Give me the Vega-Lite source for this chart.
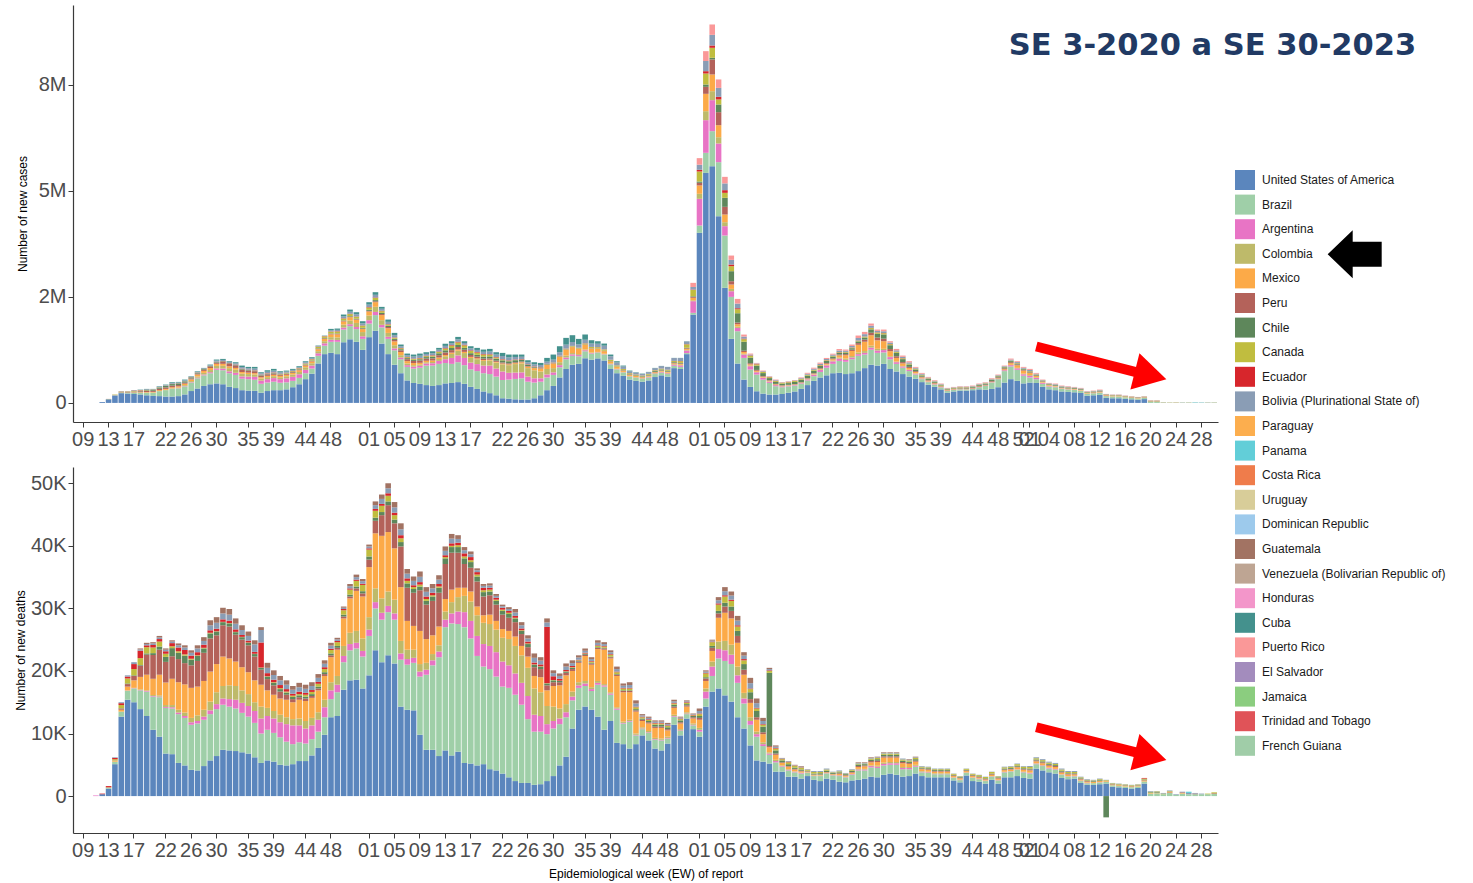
{
"$schema":"https://vega.github.io/schema/vega-lite/v6.json",
"padding":{"left":14,"top":5,"right":5,"bottom":5},
"background":"white",
"config":{"view":{"stroke":null},"axis":{"grid":false,"labelFont":"Liberation Sans","titleFont":"Liberation Sans","labelFontSize":20,"labelColor":"#4d4d4d","titleColor":"#000000","titleFontSize":12,"titleFontWeight":"normal","domainColor":"#3a3a3a","domainWidth":1.2,"tickColor":"#3a3a3a","tickSize":5,"labelPadding":2}},
"datasets":{
"names":[{"key":"u","country":"United States of America","rank":1},{"key":"b","country":"Brazil","rank":2},{"key":"a","country":"Argentina","rank":3},{"key":"c","country":"Colombia","rank":4},{"key":"m","country":"Mexico","rank":5},{"key":"p","country":"Peru","rank":6},{"key":"l","country":"Chile","rank":7},{"key":"k","country":"Canada","rank":8},{"key":"e","country":"Ecuador","rank":9},{"key":"o","country":"Bolivia (Plurinational State of)","rank":10},{"key":"n","country":"Panama","rank":12},{"key":"g","country":"Guatemala","rank":16},{"key":"q","country":"Cuba","rank":19},{"key":"r","country":"Puerto Rico","rank":20}],
"cases":[
{"w":"2020-08","u":0},{"w":"2020-09","u":0},{"w":"2020-10","u":0},{"w":"2020-11","u":0},{"w":"2020-12","u":20},
{"w":"2020-13","u":85,"b":3,"m":1,"l":1,"k":3,"e":1},
{"w":"2020-14","u":175,"b":7,"m":2,"p":2,"l":2,"k":8,"e":1},
{"w":"2020-15","u":230,"b":10,"c":1,"m":3,"p":7,"l":3,"k":10,"e":5,"o":3,"q":3},
{"w":"2020-16","u":220,"b":17,"c":1,"m":4,"p":10,"l":4,"k":10,"e":4,"o":3,"q":2},
{"w":"2020-17","u":210,"b":30,"c":2,"m":7,"p":17,"l":4,"k":11,"e":8,"o":5,"q":5},
{"w":"2020-18","u":200,"b":40,"c":3,"m":10,"p":20,"l":9,"k":10,"e":8,"o":7,"q":7},
{"w":"2020-19","u":180,"b":60,"c":4,"m":12,"p":25,"l":14,"k":8,"e":5,"o":11,"q":11},
{"w":"2020-20","u":165,"b":75,"c":5,"m":15,"p":27,"l":19,"k":7,"e":3,"o":7,"q":7},
{"w":"2020-21","u":160,"b":115,"c":6,"m":20,"p":32,"l":27,"k":6,"e":3,"o":12,"q":12},
{"w":"2020-22","u":150,"b":150,"c":8,"m":22,"p":36,"l":33,"k":5,"e":3,"o":13,"q":12},
{"w":"2020-23","u":150,"b":180,"a":4,"c":11,"m":25,"p":38,"l":36,"k":4,"e":3,"o":18,"q":18},
{"w":"2020-24","u":160,"b":180,"a":6,"c":15,"m":30,"p":30,"l":38,"k":3,"e":3,"o":15,"q":15},
{"w":"2020-25","u":200,"b":190,"a":8,"c":20,"m":35,"p":24,"l":30,"k":2,"e":3,"o":19,"q":19},
{"w":"2020-26","u":280,"b":200,"a":10,"c":24,"m":40,"p":22,"l":25,"k":2,"e":4,"o":11,"q":11},
{"w":"2020-27","u":340,"b":240,"a":15,"c":30,"m":44,"p":23,"l":20,"k":2,"e":5,"o":14,"q":14},
{"w":"2020-28","u":400,"b":250,"a":20,"c":38,"m":47,"p":24,"l":17,"k":2,"e":5,"o":11,"q":11},
{"w":"2020-29","u":440,"b":260,"a":25,"c":50,"m":48,"p":26,"l":14,"k":3,"e":6,"o":16,"q":16},
{"w":"2020-30","u":460,"b":320,"a":33,"c":60,"m":48,"p":28,"l":14,"k":3,"e":6,"o":25,"q":25},
{"w":"2020-31","u":440,"b":330,"a":40,"c":65,"m":46,"p":45,"l":13,"k":3,"e":6,"o":25,"q":24},
{"w":"2020-32","u":380,"b":320,"a":45,"c":75,"m":43,"p":55,"l":13,"k":3,"e":6,"o":21,"q":21},
{"w":"2020-33","u":350,"b":310,"a":50,"c":75,"m":40,"p":60,"l":12,"k":3,"e":6,"o":27,"q":26},
{"w":"2020-34","u":300,"b":270,"a":55,"c":65,"m":38,"p":60,"l":13,"k":3,"e":6,"o":35,"q":35},
{"w":"2020-35","u":290,"b":270,"a":60,"c":60,"m":33,"p":50,"l":12,"k":3,"e":6,"o":33,"q":32},
{"w":"2020-36","u":285,"b":260,"a":70,"c":55,"m":32,"p":45,"l":12,"k":4,"e":7,"o":40,"q":39},
{"w":"2020-37","u":240,"b":210,"a":75,"c":50,"m":30,"p":40,"l":11,"k":5,"e":7,"o":28,"q":27},
{"w":"2020-38","u":280,"b":200,"a":80,"c":48,"m":30,"p":35,"l":11,"k":7,"e":8,"o":36,"q":35},
{"w":"2020-39","u":300,"b":200,"a":85,"c":45,"m":32,"p":30,"l":11,"k":8,"e":8,"o":42,"q":41},
{"w":"2020-40","u":300,"b":175,"a":85,"c":45,"m":33,"p":22,"l":10,"k":10,"e":8,"o":30,"q":29},
{"w":"2020-41","u":320,"b":165,"a":95,"c":48,"m":35,"p":20,"l":11,"k":13,"e":6,"o":25,"q":24},
{"w":"2020-42","u":370,"b":150,"a":95,"c":55,"m":35,"p":17,"l":10,"k":16,"e":6,"o":24,"q":24},
{"w":"2020-43","u":440,"b":150,"a":85,"c":55,"m":40,"p":16,"l":10,"k":17,"e":6,"o":23,"q":23},
{"w":"2020-44","u":560,"b":140,"a":80,"c":60,"m":40,"p":15,"l":10,"k":20,"e":6,"o":26,"q":25},
{"w":"2020-45","u":690,"b":120,"a":70,"c":55,"m":42,"p":14,"l":10,"k":25,"e":6,"o":23,"q":22},
{"w":"2020-46","u":930,"b":180,"a":60,"c":50,"m":45,"p":13,"l":10,"k":32,"e":7,"o":13,"q":12},
{"w":"2020-47","u":1150,"b":200,"a":55,"c":50,"m":55,"p":12,"l":10,"k":35,"e":7,"o":7,"q":7},
{"w":"2020-48","u":1180,"b":260,"a":50,"c":60,"m":65,"p":13,"l":10,"k":40,"e":7,"o":30,"q":30},
{"w":"2020-49","u":1150,"b":290,"a":45,"c":60,"m":70,"p":13,"l":10,"k":45,"e":8,"o":31,"q":31},
{"w":"2020-50","u":1430,"b":300,"a":45,"c":70,"m":75,"p":12,"l":11,"k":45,"e":8,"o":44,"q":43},
{"w":"2020-51","u":1500,"b":310,"a":45,"c":85,"m":80,"p":12,"l":14,"k":48,"e":8,"o":49,"q":49},
{"w":"2020-52","u":1440,"b":300,"a":50,"c":95,"m":75,"p":12,"l":15,"k":45,"e":7,"o":50,"q":49},
{"w":"2020-53","u":1250,"b":260,"a":60,"c":100,"m":70,"p":12,"l":18,"k":50,"e":7,"o":50,"q":49},
{"w":"2021-01","u":1550,"b":320,"a":80,"c":110,"m":95,"p":15,"l":25,"k":55,"e":10,"o":57,"q":57},
{"w":"2021-02","u":1700,"b":370,"a":75,"c":120,"m":110,"p":20,"l":28,"k":50,"e":12,"o":63,"q":62},
{"w":"2021-03","u":1400,"b":380,"a":60,"c":110,"m":120,"p":25,"l":28,"k":40,"e":10,"o":46,"q":45},
{"w":"2021-04","u":1150,"b":360,"a":50,"c":90,"m":110,"p":30,"l":28,"k":30,"e":9,"o":54,"q":54},
{"w":"2021-05","u":900,"b":340,"a":45,"c":75,"m":90,"p":35,"l":27,"k":25,"e":8,"o":53,"q":53},
{"w":"2021-06","u":700,"b":330,"a":40,"c":55,"m":75,"p":40,"l":26,"k":22,"e":8,"o":40,"q":40},
{"w":"2021-07","u":530,"b":320,"a":40,"c":40,"m":55,"p":45,"l":26,"k":20,"e":8,"o":40,"q":39},
{"w":"2021-08","u":470,"b":340,"a":45,"c":35,"m":50,"p":50,"l":26,"k":20,"e":9,"o":48,"q":47},
{"w":"2021-09","u":450,"b":380,"a":45,"c":30,"m":40,"p":55,"l":30,"k":20,"e":10,"o":52,"q":51},
{"w":"2021-10","u":420,"b":460,"a":50,"c":28,"m":35,"p":52,"l":35,"k":22,"e":10,"o":42,"q":41},
{"w":"2021-11","u":400,"b":480,"a":55,"c":30,"m":35,"p":50,"l":40,"k":25,"e":10,"o":47,"q":46},
{"w":"2021-12","u":420,"b":500,"a":70,"c":45,"m":35,"p":55,"l":45,"k":30,"e":11,"o":43,"q":43},
{"w":"2021-13","u":460,"b":480,"a":90,"c":70,"m":30,"p":60,"l":50,"k":40,"e":12,"o":52,"q":51},
{"w":"2021-14","u":470,"b":450,"a":140,"c":95,"m":30,"p":60,"l":50,"k":55,"e":13,"o":46,"q":45},
{"w":"2021-15","u":490,"b":470,"a":160,"c":110,"m":30,"p":58,"l":48,"k":60,"e":14,"o":58,"q":58},
{"w":"2021-16","u":450,"b":440,"a":170,"c":115,"m":28,"p":50,"l":45,"k":58,"e":14,"o":42,"q":42},
{"w":"2021-17","u":380,"b":410,"a":160,"c":110,"m":25,"p":45,"l":42,"k":55,"e":13,"o":48,"q":48},
{"w":"2021-18","u":330,"b":420,"a":165,"c":115,"m":22,"p":40,"l":42,"k":52,"e":13,"o":49,"q":49},
{"w":"2021-19","u":270,"b":430,"a":180,"c":110,"m":20,"p":35,"l":45,"k":50,"e":12,"o":53,"q":53},
{"w":"2021-20","u":230,"b":450,"a":200,"c":120,"m":18,"p":30,"l":48,"k":40,"e":12,"o":63,"q":62},
{"w":"2021-21","u":180,"b":440,"a":190,"c":140,"m":18,"p":28,"l":48,"k":28,"e":11,"o":56,"q":56},
{"w":"2021-22","u":110,"b":430,"a":200,"c":170,"m":18,"p":25,"l":50,"k":18,"e":11,"o":74,"q":73},
{"w":"2021-23","u":100,"b":450,"a":160,"c":180,"m":20,"p":22,"l":50,"k":12,"e":10,"o":68,"q":68},
{"w":"2021-24","u":85,"b":480,"a":150,"c":200,"m":22,"p":20,"l":50,"k":8,"e":10,"o":58,"q":57},
{"w":"2021-25","u":80,"b":500,"a":140,"c":210,"m":28,"p":17,"l":42,"k":6,"e":10,"o":54,"q":53},
{"w":"2021-26","u":80,"b":420,"a":120,"c":200,"m":35,"p":14,"l":30,"k":5,"e":8,"o":47,"q":47},
{"w":"2021-27","u":110,"b":370,"a":100,"c":190,"m":50,"p":12,"l":20,"k":4,"e":7,"o":48,"q":48},
{"w":"2021-28","u":180,"b":320,"a":80,"c":160,"m":70,"p":10,"l":14,"k":4,"e":6,"o":50,"q":49},
{"w":"2021-29","u":300,"b":300,"a":70,"c":130,"m":95,"p":9,"l":10,"k":4,"e":5,"o":50,"q":88},
{"w":"2021-30","u":400,"b":260,"a":60,"c":100,"m":110,"p":8,"l":8,"k":5,"e":5,"o":64,"q":120},
{"w":"2021-31","u":600,"b":240,"a":50,"c":70,"m":130,"p":8,"l":6,"k":7,"e":5,"o":80,"q":140},
{"w":"2021-32","u":800,"b":230,"a":40,"c":45,"m":140,"p":7,"l":5,"k":10,"e":5,"o":91,"q":160},
{"w":"2021-33","u":900,"b":210,"a":35,"c":30,"m":140,"p":7,"l":5,"k":14,"e":4,"o":91,"q":160},
{"w":"2021-34","u":920,"b":180,"a":28,"c":22,"m":120,"p":7,"l":4,"k":18,"e":4,"o":76,"q":130},
{"w":"2021-35","u":1050,"b":170,"a":20,"c":18,"m":110,"p":7,"l":4,"k":22,"e":3,"o":87,"q":120},
{"w":"2021-36","u":1020,"b":140,"a":14,"c":14,"m":90,"p":7,"l":4,"k":28,"e":3,"o":78,"q":80},
{"w":"2021-37","u":1050,"b":130,"a":10,"c":12,"m":70,"p":7,"l":4,"k":30,"e":3,"o":78,"q":60},
{"w":"2021-38","u":1000,"b":140,"a":8,"c":11,"m":60,"p":7,"l":4,"k":30,"e":3,"o":86,"q":50},
{"w":"2021-39","u":800,"b":110,"a":7,"c":10,"m":50,"p":6,"l":4,"k":28,"e":3,"o":82,"q":40},
{"w":"2021-40","u":700,"b":90,"a":6,"c":10,"m":40,"p":6,"l":5,"k":26,"e":3,"o":67,"q":30},
{"w":"2021-41","u":640,"b":75,"a":6,"c":10,"m":32,"p":6,"l":7,"k":22,"e":3,"o":59,"q":20},
{"w":"2021-42","u":550,"b":70,"a":7,"c":10,"m":28,"p":6,"l":10,"k":18,"e":3,"o":45,"q":15},
{"w":"2021-43","u":520,"b":70,"a":8,"c":11,"m":25,"p":6,"l":12,"k":16,"e":3,"o":42,"q":10},
{"w":"2021-44","u":500,"b":65,"a":9,"c":11,"m":20,"p":7,"l":15,"k":16,"e":3,"o":38,"q":8},
{"w":"2021-45","u":530,"b":70,"a":10,"c":12,"m":18,"p":7,"l":18,"k":17,"e":3,"o":40,"q":6},
{"w":"2021-46","u":610,"b":70,"a":12,"c":13,"m":18,"p":8,"l":20,"k":17,"e":3,"o":49,"q":5},
{"w":"2021-47","u":650,"b":60,"a":15,"c":14,"m":18,"p":9,"l":22,"k":18,"e":4,"o":58,"q":4},
{"w":"2021-48","u":620,"b":60,"a":18,"c":14,"m":18,"p":10,"l":20,"k":20,"e":4,"o":62,"q":3},
{"w":"2021-49","u":820,"b":55,"a":25,"c":15,"m":18,"p":11,"l":17,"k":25,"e":5,"o":67,"q":3},
{"w":"2021-50","u":800,"b":50,"a":35,"c":14,"m":18,"p":12,"l":14,"k":40,"e":5,"o":70,"q":3},
{"w":"2021-51","u":1150,"b":25,"a":60,"c":14,"m":25,"p":14,"l":12,"k":80,"e":6,"o":65,"q":3},
{"w":"2021-52","u":2083,"b":40,"a":275,"c":20,"m":60,"p":20,"l":15,"k":150,"e":10,"o":60,"r":97},
{"w":"2022-01","u":4009,"b":173,"a":629,"c":118,"m":197,"p":63,"l":30,"k":236,"e":40,"o":120,"r":155},
{"w":"2022-02","u":5423,"b":472,"a":770,"c":212,"m":409,"p":165,"l":55,"k":259,"e":55,"o":240,"r":232},
{"w":"2022-03","u":5581,"b":825,"a":731,"c":212,"m":393,"p":354,"l":39,"k":236,"e":55,"o":250,"r":245},
{"w":"2022-04","u":4402,"b":1273,"a":440,"c":149,"m":283,"p":307,"l":181,"k":118,"e":63,"o":210,"r":199},
{"w":"2022-05","u":2712,"b":1234,"a":220,"c":94,"m":181,"p":181,"l":212,"k":118,"e":63,"o":160,"r":154},
{"w":"2022-06","u":1509,"b":990,"a":134,"c":55,"m":102,"p":79,"l":236,"k":118,"e":39,"o":110,"r":102},
{"w":"2022-07","u":928,"b":762,"a":79,"c":30,"m":55,"p":40,"l":220,"k":94,"e":24,"o":110,"r":110},
{"w":"2022-08","u":550,"b":511,"a":79,"c":20,"m":40,"p":30,"l":212,"k":60,"e":15,"o":47,"r":47},
{"w":"2022-09","u":377,"b":409,"a":79,"c":15,"m":30,"p":25,"l":134,"k":40,"e":10,"o":22,"r":22},
{"w":"2022-10","u":275,"b":393,"a":55,"c":10,"m":25,"p":20,"l":100,"k":30,"e":8,"o":14,"r":13},
{"w":"2022-11","u":220,"b":330,"a":40,"c":8,"m":20,"p":15,"l":70,"k":25,"e":6,"o":14,"r":14},
{"w":"2022-12","u":197,"b":275,"a":30,"c":6,"m":15,"p":12,"l":50,"k":20,"e":5,"o":10,"r":9},
{"w":"2022-13","u":197,"b":197,"a":25,"c":5,"m":15,"p":10,"l":45,"k":20,"e":5,"o":16,"r":15},
{"w":"2022-14","u":210,"b":160,"a":20,"c":4,"m":12,"p":8,"l":40,"k":20,"e":4,"o":6,"r":6},
{"w":"2022-15","u":240,"b":150,"a":15,"c":4,"m":10,"p":8,"l":40,"k":20,"e":4,"o":10,"r":9},
{"w":"2022-16","u":270,"b":140,"a":12,"c":4,"m":10,"p":8,"l":50,"k":22,"e":4,"o":10,"r":10},
{"w":"2022-17","u":330,"b":120,"a":15,"c":5,"m":10,"p":8,"l":60,"k":20,"e":4,"o":14,"r":14},
{"w":"2022-18","u":420,"b":110,"a":25,"c":6,"m":12,"p":10,"l":60,"k":18,"e":4,"o":23,"r":22},
{"w":"2022-19","u":520,"b":110,"a":35,"c":8,"m":15,"p":12,"l":60,"k":17,"e":4,"o":25,"r":24},
{"w":"2022-20","u":600,"b":130,"a":45,"c":10,"m":18,"p":15,"l":55,"k":16,"e":4,"o":29,"r":28},
{"w":"2022-21","u":650,"b":180,"a":55,"c":15,"m":22,"p":18,"l":50,"k":15,"e":4,"o":26,"r":25},
{"w":"2022-22","u":700,"b":220,"a":60,"c":20,"m":30,"p":20,"l":45,"k":14,"e":4,"o":24,"r":23},
{"w":"2022-23","u":710,"b":280,"a":55,"c":25,"m":50,"p":22,"l":40,"k":13,"e":5,"o":35,"r":35},
{"w":"2022-24","u":680,"b":290,"a":45,"c":30,"m":80,"p":25,"l":35,"k":13,"e":5,"o":28,"r":27},
{"w":"2022-25","u":700,"b":330,"a":40,"c":35,"m":120,"p":30,"l":35,"k":15,"e":5,"o":33,"r":33},
{"w":"2022-26","u":750,"b":360,"a":40,"c":40,"m":180,"p":40,"l":40,"k":17,"e":5,"o":58,"r":58},
{"w":"2022-27","u":820,"b":320,"a":40,"c":42,"m":220,"p":50,"l":50,"k":20,"e":5,"o":54,"r":53},
{"w":"2022-28","u":900,"b":354,"a":50,"c":45,"m":245,"p":60,"l":80,"k":30,"e":6,"o":51,"r":50},
{"w":"2022-29","u":880,"b":300,"a":55,"c":40,"m":200,"p":65,"l":90,"k":30,"e":6,"o":32,"r":31},
{"w":"2022-30","u":920,"b":270,"a":55,"c":30,"m":180,"p":60,"l":100,"k":28,"e":5,"o":41,"r":40},
{"w":"2022-31","u":800,"b":230,"a":50,"c":20,"m":120,"p":50,"l":90,"k":25,"e":4,"o":33,"r":32},
{"w":"2022-32","u":740,"b":180,"a":40,"c":15,"m":85,"p":40,"l":80,"k":22,"e":4,"o":34,"r":33},
{"w":"2022-33","u":680,"b":150,"a":30,"c":12,"m":60,"p":30,"l":70,"k":20,"e":4,"o":30,"r":30},
{"w":"2022-34","u":620,"b":130,"a":25,"c":10,"m":40,"p":25,"l":55,"k":18,"e":3,"o":29,"r":28},
{"w":"2022-35","u":570,"b":100,"a":20,"c":8,"m":30,"p":20,"l":40,"k":16,"e":3,"o":21,"r":21},
{"w":"2022-36","u":490,"b":70,"a":15,"c":6,"m":22,"p":15,"l":30,"k":15,"e":3,"o":21,"r":20},
{"w":"2022-37","u":430,"b":60,"a":12,"c":5,"m":18,"p":12,"l":25,"k":15,"e":3,"o":17,"r":16},
{"w":"2022-38","u":380,"b":50,"a":10,"c":4,"m":15,"p":10,"l":20,"k":14,"e":2,"o":15,"r":15},
{"w":"2022-39","u":320,"b":45,"a":8,"c":4,"m":12,"p":8,"l":17,"k":14,"e":2,"o":13,"r":13},
{"w":"2022-40","u":240,"b":40,"a":6,"c":3,"m":10,"p":7,"l":15,"k":12,"e":2,"o":10,"r":9},
{"w":"2022-41","u":270,"b":35,"a":5,"c":3,"m":9,"p":7,"l":14,"k":12,"e":2,"o":10,"r":10},
{"w":"2022-42","u":290,"b":30,"a":4,"c":3,"m":8,"p":8,"l":15,"k":12,"e":2,"o":11,"r":10},
{"w":"2022-43","u":290,"b":28,"a":4,"c":3,"m":7,"p":10,"l":16,"k":11,"e":2,"o":11,"r":11},
{"w":"2022-44","u":300,"b":28,"a":4,"c":3,"m":7,"p":12,"l":18,"k":11,"e":2,"o":12,"r":12},
{"w":"2022-45","u":320,"b":50,"a":4,"c":3,"m":7,"p":14,"l":20,"k":11,"e":2,"o":13,"r":12},
{"w":"2022-46","u":310,"b":90,"a":5,"c":3,"m":7,"p":15,"l":20,"k":11,"e":2,"o":12,"r":12},
{"w":"2022-47","u":330,"b":150,"a":6,"c":4,"m":8,"p":16,"l":25,"k":11,"e":2,"o":15,"r":15},
{"w":"2022-48","u":370,"b":190,"a":8,"c":4,"m":10,"p":20,"l":25,"k":11,"e":2,"o":14,"r":14},
{"w":"2022-49","u":480,"b":270,"a":20,"c":5,"m":20,"p":20,"l":25,"k":11,"e":2,"o":14,"r":13},
{"w":"2022-50","u":560,"b":300,"a":30,"c":8,"m":40,"p":22,"l":25,"k":11,"e":2,"o":24,"r":23},
{"w":"2022-51","u":520,"b":260,"a":35,"c":12,"m":60,"p":18,"l":22,"k":11,"e":2,"o":22,"r":21},
{"w":"2022-52","u":460,"b":180,"a":35,"c":15,"m":70,"p":14,"l":20,"k":10,"e":2,"o":22,"r":21},
{"w":"2023-01","u":480,"b":120,"a":40,"c":18,"m":50,"p":12,"l":20,"k":10,"e":2,"o":25,"r":25},
{"w":"2023-02","u":470,"b":90,"a":30,"c":15,"m":30,"p":10,"l":18,"k":8,"e":2,"o":17,"r":17},
{"w":"2023-03","u":380,"b":70,"a":20,"c":10,"m":20,"p":8,"l":14,"k":7,"e":2,"o":10,"r":9},
{"w":"2023-04","u":320,"b":65,"a":12,"c":8,"m":15,"p":7,"l":14,"k":6,"e":2,"o":12,"r":11},
{"w":"2023-05","u":300,"b":70,"a":10,"c":7,"m":13,"p":6,"l":15,"k":6,"e":2,"o":14,"r":13},
{"w":"2023-06","u":270,"b":60,"a":8,"c":6,"m":12,"p":6,"l":15,"k":6,"e":2,"o":12,"r":12},
{"w":"2023-07","u":260,"b":55,"a":6,"c":6,"m":12,"p":6,"l":16,"k":6,"e":2,"o":12,"r":12},
{"w":"2023-08","u":250,"b":55,"a":5,"c":5,"m":12,"p":6,"l":16,"k":6,"e":2,"o":10,"r":10},
{"w":"2023-09","u":235,"b":50,"a":4,"c":5,"m":12,"p":5,"l":15,"k":6,"e":2,"o":10,"r":10},
{"w":"2023-10","u":170,"b":45,"a":3,"c":4,"m":12,"p":5,"l":12,"k":6,"e":2,"o":8,"r":8},
{"w":"2023-11","u":180,"b":45,"a":3,"c":4,"m":14,"p":6,"l":12,"k":6,"e":2,"o":10,"r":9},
{"w":"2023-12","u":190,"b":50,"a":3,"c":4,"m":16,"p":8,"l":12,"k":6,"e":2,"o":12,"r":11},
{"w":"2023-13","u":120,"b":40,"a":2,"c":4,"m":14,"p":6,"l":8,"k":5,"e":2,"o":6,"r":5},
{"w":"2023-14","u":110,"b":40,"a":2,"c":4,"m":12,"p":6,"l":7,"k":5,"e":2,"o":5,"r":4},
{"w":"2023-15","u":110,"b":40,"a":2,"c":4,"m":12,"p":6,"l":7,"k":5,"e":2,"o":5,"r":4},
{"w":"2023-16","u":95,"b":35,"a":2,"c":4,"m":10,"p":5,"l":7,"k":5,"e":2,"o":4,"r":4},
{"w":"2023-17","u":85,"b":30,"a":2,"c":4,"m":10,"p":5,"l":6,"k":5,"e":2,"o":4,"r":4},
{"w":"2023-18","u":75,"b":28,"a":2,"c":3,"m":9,"p":4,"l":6,"k":5,"e":2,"o":4,"r":3},
{"w":"2023-19","u":90,"b":28,"a":2,"c":3,"m":9,"p":4,"l":6,"k":5,"e":2,"o":4,"r":4},
{"w":"2023-20","b":25,"c":4,"m":8,"p":3,"l":6,"k":5,"e":2,"o":5,"r":5},
{"w":"2023-21","b":25,"c":3,"m":9,"p":3,"l":6,"k":5,"e":2,"o":5,"r":5},
{"w":"2023-22","b":8,"m":4,"k":3,"o":5},
{"w":"2023-23","b":6,"m":3,"k":3,"o":3},
{"w":"2023-24","b":6,"m":5,"k":3,"o":4},
{"w":"2023-25","b":6,"c":4,"o":5},
{"w":"2023-26","b":5,"k":5,"o":5},
{"w":"2023-27","b":5,"n":8,"o":5},
{"w":"2023-28","b":5,"n":5,"o":5},
{"w":"2023-29","b":5,"c":5,"o":5},
{"w":"2023-30","b":5,"k":5,"o":5}
],
"deaths":[
{"w":"2020-08","u":0},{"w":"2020-09","u":0},{"w":"2020-10","u":0},{"w":"2020-11","a":0.1},{"w":"2020-12","u":0.3,"e":0.1},
{"w":"2020-13","u":1.2,"b":0.15,"k":0.05,"e":0.2},
{"w":"2020-14","u":5.1,"b":0.4,"m":0.15,"p":0.05,"k":0.2,"e":0.2,"o":0.1},
{"w":"2020-15","u":12.7,"b":0.8,"m":0.3,"p":0.2,"l":0.05,"k":0.5,"e":0.3,"o":0.15},
{"w":"2020-16","u":15.4,"b":1.4,"a":0.05,"c":0.05,"m":0.6,"p":0.4,"l":0.1,"k":0.8,"e":0.3,"o":0.2},
{"w":"2020-17","u":15,"b":2.2,"a":0.05,"c":0.05,"m":1.2,"p":0.7,"l":0.1,"k":1,"e":0.8,"o":0.3},
{"w":"2020-18","u":13.9,"b":3,"a":0.05,"c":0.1,"m":2,"p":1.8,"l":0.1,"k":1.1,"e":1.2,"o":0.2,"g":0.15},
{"w":"2020-19","u":12.8,"b":3.9,"a":0.1,"c":0.1,"m":2.5,"p":3.2,"l":0.2,"k":1,"e":0.3,"o":0.2,"g":0.2},
{"w":"2020-20","u":10.6,"b":5.3,"a":0.1,"c":0.15,"m":2.6,"p":3.8,"l":0.3,"k":0.9,"e":0.4,"o":0.25,"g":0.2},
{"w":"2020-21","u":9.5,"b":6.3,"a":0.1,"c":0.2,"m":3.3,"p":4,"l":0.5,"k":0.8,"e":0.4,"o":0.25,"g":0.25},
{"w":"2020-22","u":6.8,"b":7.3,"a":0.15,"c":0.3,"m":3.6,"p":3.3,"l":0.8,"k":0.5,"e":0.4,"o":0.25,"g":0.2},
{"w":"2020-23","u":6.7,"b":7.3,"a":0.2,"c":0.35,"m":4.2,"p":3.6,"l":1.3,"k":0.3,"e":0.5,"o":0.25,"g":0.2},
{"w":"2020-24","u":5.3,"b":7.8,"a":0.25,"c":0.45,"m":4.4,"p":3.7,"l":1,"k":0.25,"e":0.6,"o":0.35,"g":0.3},
{"w":"2020-25","u":4.9,"b":7.6,"a":0.3,"c":0.55,"m":4.5,"p":3.4,"l":1.2,"k":0.2,"e":0.7,"o":0.4,"g":0.35},
{"w":"2020-26","u":4.2,"b":7.2,"a":0.4,"c":0.7,"m":4.8,"p":3.6,"l":0.9,"k":0.15,"e":0.5,"o":0.45,"g":0.4},
{"w":"2020-27","u":4.1,"b":7.5,"a":0.4,"c":0.9,"m":4.6,"p":4.1,"l":0.8,"k":0.1,"e":0.5,"o":0.6,"g":0.5},
{"w":"2020-28","u":4.8,"b":7.4,"a":0.5,"c":1.1,"m":4.6,"p":4.5,"l":0.7,"k":0.1,"e":0.5,"o":0.6,"g":0.6},
{"w":"2020-29","u":5.7,"b":7.4,"a":0.6,"c":1.4,"m":4.8,"p":5.3,"l":0.8,"k":0.1,"e":0.4,"o":0.8,"g":0.8},
{"w":"2020-30","u":6.4,"b":7.5,"a":0.8,"c":1.9,"m":4.5,"p":4.6,"l":0.6,"k":0.05,"e":0.4,"o":0.95,"g":0.9},
{"w":"2020-31","u":7.4,"b":7.2,"a":1,"c":2,"m":4.7,"p":5,"l":0.5,"k":0.05,"e":0.4,"o":0.95,"g":0.9},
{"w":"2020-32","u":7.3,"b":7,"a":1.2,"c":2.2,"m":4.3,"p":5.1,"l":0.5,"k":0.05,"e":0.4,"o":0.95,"g":0.9},
{"w":"2020-33","u":7.2,"b":6.8,"a":1.4,"c":2.2,"m":3.9,"p":4.3,"l":0.4,"k":0.05,"e":0.4,"o":0.9,"g":0.85},
{"w":"2020-34","u":7,"b":6.3,"a":1.6,"c":2,"m":3.7,"p":4.4,"l":0.4,"k":0.05,"e":0.3,"o":0.8,"g":0.75},
{"w":"2020-35","u":6.8,"b":5.9,"a":1.7,"c":1.9,"m":3.5,"p":4.3,"l":0.4,"k":0.05,"e":0.3,"o":0.75,"g":0.7},
{"w":"2020-36","u":6.2,"b":5.5,"a":1.9,"c":1.4,"m":3.5,"p":3.8,"l":0.4,"k":0.05,"e":0.3,"o":1.2,"g":0.65},
{"w":"2020-37","u":5.3,"b":4.7,"a":2.4,"c":1.9,"m":3.5,"p":2.4,"l":0.3,"k":0.05,"e":4,"o":2,"g":0.45},
{"w":"2020-38","u":5.7,"b":4.9,"a":2.2,"c":1.3,"m":2.8,"p":1.8,"l":0.4,"k":0.05,"e":0.5,"o":0.85,"g":0.8},
{"w":"2020-39","u":5.5,"b":4.6,"a":2.3,"c":1.2,"m":2.6,"p":1.5,"l":0.4,"k":0.1,"e":0.4,"o":0.75,"g":0.75},
{"w":"2020-40","u":5,"b":4.4,"a":2.4,"c":1.2,"m":2.6,"p":1.1,"l":0.4,"k":0.15,"e":0.5,"o":0.75,"g":0.7},
{"w":"2020-41","u":4.9,"b":3.8,"a":2.8,"c":1.1,"m":2.8,"p":0.8,"l":0.35,"k":0.15,"e":0.4,"o":0.7,"g":0.7},
{"w":"2020-42","u":5.1,"b":3.2,"a":3,"c":1,"m":2.7,"p":0.5,"l":0.35,"k":0.2,"e":0.3,"o":0.65,"g":0.6},
{"w":"2020-43","u":5.6,"b":3,"a":2.7,"c":1.1,"m":3,"p":0.4,"l":0.3,"k":0.2,"e":0.4,"o":0.7,"g":0.7},
{"w":"2020-44","u":5.6,"b":2.8,"a":2.4,"c":1.2,"m":3.2,"p":0.4,"l":0.3,"k":0.3,"e":0.3,"o":0.65,"g":0.65},
{"w":"2020-45","u":6.5,"b":2.6,"a":2.2,"c":1.2,"m":3.2,"p":0.3,"l":0.3,"k":0.35,"e":0.3,"o":0.65,"g":0.6},
{"w":"2020-46","u":7.7,"b":2.6,"a":1.9,"c":1.2,"m":3.5,"p":0.3,"l":0.3,"k":0.45,"e":0.3,"o":0.65,"g":0.6},
{"w":"2020-47","u":9.8,"b":2.8,"a":1.6,"c":1.2,"m":3.8,"p":0.3,"l":0.3,"k":0.5,"e":0.3,"o":0.55,"g":0.55},
{"w":"2020-48","u":12.6,"b":2.9,"a":1.4,"c":1.3,"m":4,"p":0.3,"l":0.3,"k":0.55,"e":0.2,"o":0.5,"g":0.45},
{"w":"2020-49","u":12.8,"b":3.8,"a":1.2,"c":1.4,"m":4.2,"p":0.3,"l":0.3,"k":0.6,"e":0.2,"o":0.25,"g":0.25},
{"w":"2020-50","u":17,"b":4.4,"a":1,"c":1.6,"m":4.4,"p":0.3,"l":0.3,"k":0.7,"e":0.2,"o":0.2,"g":0.2},
{"w":"2020-51","u":18.5,"b":4.8,"a":1,"c":1.8,"m":5.5,"p":0.3,"l":0.3,"k":0.8,"e":0.2,"o":0.35,"g":0.35},
{"w":"2020-52","u":18.6,"b":5,"a":0.9,"c":1.9,"m":6.4,"p":0.4,"l":0.3,"k":0.9,"e":0.2,"o":0.4,"g":0.4},
{"w":"2020-53","u":17.2,"b":5.1,"a":0.9,"c":2,"m":6.7,"p":0.5,"l":0.35,"k":1,"e":0.2,"o":0.4,"g":0.35},
{"w":"2021-01","u":19.3,"b":6.3,"a":1,"c":2,"m":8,"p":1.2,"l":0.5,"k":1.1,"e":0.2,"o":0.3,"g":0.3},
{"w":"2021-02","u":23.3,"b":6.7,"a":1,"c":2.2,"m":8.8,"p":2,"l":0.5,"k":1.1,"e":0.3,"o":0.6,"g":0.6},
{"w":"2021-03","u":21.4,"b":6.8,"a":1.1,"c":2.3,"m":10,"p":3.3,"l":0.5,"k":1,"e":0.3,"o":0.8,"g":0.7},
{"w":"2021-04","u":22.5,"b":6.9,"a":1,"c":2.3,"m":9.5,"p":4.3,"l":0.6,"k":0.9,"e":0.4,"o":0.8,"g":0.8},
{"w":"2021-05","u":21.2,"b":7,"a":1,"c":2.2,"m":8.2,"p":4,"l":0.6,"k":0.7,"e":0.4,"o":0.85,"g":0.85},
{"w":"2021-06","u":14.3,"b":7.5,"a":1,"c":2,"m":8.6,"p":6.5,"l":0.7,"k":0.6,"e":0.5,"o":0.95,"g":0.95},
{"w":"2021-07","u":13.8,"b":7.2,"a":0.9,"c":1.5,"m":4.6,"p":5.3,"l":0.7,"k":0.4,"e":0.4,"o":0.75,"g":0.75},
{"w":"2021-08","u":13.7,"b":7.6,"a":0.8,"c":1.3,"m":3.8,"p":5.3,"l":0.6,"k":0.3,"e":0.3,"o":0.7,"g":0.7},
{"w":"2021-09","u":9.8,"b":9.3,"a":0.8,"c":1.2,"m":5.3,"p":6.5,"l":0.6,"k":0.3,"e":0.4,"o":0.85,"g":0.85},
{"w":"2021-10","u":7.4,"b":12,"a":0.8,"c":1.1,"m":3.8,"p":5.5,"l":0.6,"k":0.3,"e":0.4,"o":0.75,"g":0.75},
{"w":"2021-11","u":7.4,"b":13.5,"a":0.8,"c":1,"m":3,"p":5.5,"l":0.7,"k":0.2,"e":0.4,"o":0.7,"g":0.7},
{"w":"2021-12","u":6.4,"b":15.8,"a":0.9,"c":1,"m":3,"p":5.4,"l":0.8,"k":0.2,"e":0.4,"o":0.7,"g":0.7},
{"w":"2021-13","u":7.3,"b":19.7,"a":1.2,"c":1.3,"m":2,"p":5.6,"l":0.9,"k":0.2,"e":0.3,"o":0.7,"g":0.7},
{"w":"2021-14","u":6.5,"b":21.1,"a":1.6,"c":1.8,"m":2,"p":5.9,"l":0.9,"k":0.2,"e":0.4,"o":0.75,"g":0.75},
{"w":"2021-15","u":7.1,"b":20.4,"a":2,"c":2.3,"m":1.5,"p":5.6,"l":0.9,"k":0.3,"e":0.4,"o":0.6,"g":0.6},
{"w":"2021-16","u":5.3,"b":21.7,"a":2.4,"c":2.6,"m":1.3,"p":3.8,"l":0.9,"k":0.3,"e":0.5,"o":0.5,"g":0.5},
{"w":"2021-17","u":5.2,"b":20,"a":2.8,"c":3.1,"m":1.6,"p":3.8,"l":0.9,"k":0.3,"e":0.5,"o":0.45,"g":0.45},
{"w":"2021-18","u":4.9,"b":17.5,"a":3.2,"c":3.3,"m":1.4,"p":4,"l":0.8,"k":0.3,"e":0.4,"o":0.3,"g":0.3},
{"w":"2021-19","u":5.1,"b":15.6,"a":3.6,"c":3.4,"m":1.2,"p":3,"l":0.7,"k":0.3,"e":0.4,"o":0.3,"g":0.3},
{"w":"2021-20","u":4.3,"b":16,"a":3.7,"c":3.5,"m":1.5,"p":3.1,"l":0.6,"k":0.3,"e":0.3,"o":0.35,"g":0.35},
{"w":"2021-21","u":4.1,"b":15,"a":3.9,"c":3.6,"m":1.4,"p":2.6,"l":0.6,"k":0.2,"e":0.3,"o":0.3,"g":0.3},
{"w":"2021-22","u":3.6,"b":13.9,"a":4,"c":3.8,"m":1.4,"p":2.3,"l":0.6,"k":0.2,"e":0.3,"o":0.25,"g":0.25},
{"w":"2021-23","u":3,"b":14.3,"a":3.6,"c":4.2,"m":1.3,"p":2.1,"l":0.6,"k":0.2,"e":0.3,"o":0.3,"g":0.3},
{"w":"2021-24","u":2.4,"b":13.8,"a":3.4,"c":4.4,"m":1.5,"p":2.3,"l":0.6,"k":0.1,"e":0.3,"o":0.55,"g":0.55},
{"w":"2021-25","u":2.1,"b":12.5,"a":3.5,"c":4.4,"m":1.5,"p":1.9,"l":0.5,"k":0.1,"e":0.3,"o":0.5,"g":0.5},
{"w":"2021-26","u":2.1,"b":10.2,"a":3.7,"c":4.5,"m":1.8,"p":1.5,"l":0.5,"k":0.1,"e":0.3,"o":0.5,"g":0.5},
{"w":"2021-27","u":1.8,"b":8.5,"a":2.7,"c":4.2,"m":2,"p":1.4,"l":0.4,"k":0.05,"e":0.3,"o":0.75,"g":0.7},
{"w":"2021-28","u":1.9,"b":8.4,"a":2.5,"c":3.8,"m":2.4,"p":1.3,"l":0.4,"k":0.05,"e":0.3,"o":0.6,"g":0.55},
{"w":"2021-29","u":2.4,"b":7.5,"a":1.6,"c":2.9,"m":2.5,"p":0.8,"l":0.3,"k":0.05,"e":9,"o":0.7,"g":0.65},
{"w":"2021-30","u":3.2,"b":7.6,"a":1.2,"c":2.3,"m":3.3,"p":0.6,"l":0.3,"k":0.05,"e":0.6,"o":0.5,"g":0.45},
{"w":"2021-31","u":4.9,"b":6.6,"a":0.9,"c":1.6,"m":3.7,"p":0.5,"l":0.2,"k":0.05,"e":0.3,"o":0.45,"g":0.4},
{"w":"2021-32","u":6.3,"b":6.3,"a":0.8,"c":1.3,"m":4.6,"p":0.4,"l":0.2,"k":0.05,"e":0.2,"o":0.55,"g":0.5},
{"w":"2021-33","u":10.8,"b":4.5,"a":0.6,"c":0.8,"m":3.3,"p":0.3,"l":0.2,"k":0.1,"e":0.2,"o":0.45,"g":0.45},
{"w":"2021-34","u":13.8,"b":3.5,"a":0.4,"c":0.5,"m":3.1,"p":0.2,"l":0.1,"k":0.1,"e":0.1,"o":0.35,"g":0.35},
{"w":"2021-35","u":14.3,"b":3.3,"a":0.4,"c":0.4,"m":4,"p":0.2,"l":0.1,"k":0.1,"e":0.1,"o":0.35,"g":0.35},
{"w":"2021-36","u":13.8,"b":3,"a":0.3,"c":0.3,"m":3.6,"p":0.2,"l":0.1,"k":0.2,"e":0.1,"o":0.3,"g":0.3},
{"w":"2021-37","u":12.7,"b":5.1,"a":0.3,"c":0.3,"m":5.1,"p":0.2,"l":0.1,"k":0.2,"e":0.1,"o":0.4,"g":0.4},
{"w":"2021-38","u":10.6,"b":6.9,"a":0.2,"c":0.2,"m":5.5,"p":0.2,"l":0.1,"k":0.2,"e":0.1,"o":0.3,"g":0.3},
{"w":"2021-39","u":12,"b":4.2,"a":0.2,"c":0.2,"m":5.4,"p":0.2,"l":0.1,"k":0.3,"e":0.1,"o":0.3,"g":0.3},
{"w":"2021-40","u":8.5,"b":5.3,"a":0.2,"c":0.2,"m":5,"p":0.2,"l":0.1,"k":0.3,"e":0.1,"o":0.4,"g":0.4},
{"w":"2021-41","u":8.3,"b":3.3,"a":0.1,"c":0.2,"m":4.7,"p":0.2,"l":0.1,"k":0.3,"e":0.1,"o":0.35,"g":0.35},
{"w":"2021-42","u":7.6,"b":4.3,"a":0.1,"c":0.2,"m":4.4,"p":0.2,"l":0.1,"k":0.3,"e":0.1,"o":0.45,"g":0.45},
{"w":"2021-43","u":8.3,"b":1.4,"a":0.1,"c":0.2,"m":3.5,"p":0.2,"l":0.2,"k":0.3,"e":0.1,"o":0.5,"g":0.5},
{"w":"2021-44","u":9.7,"b":1,"a":0.1,"c":0.2,"m":1,"p":0.2,"l":0.2,"k":0.2,"e":0.1,"o":0.2,"g":0.2},
{"w":"2021-45","u":8.9,"b":1.2,"a":0.1,"c":0.2,"m":1.2,"p":0.2,"l":0.2,"k":0.2,"e":0.1,"o":0.2,"g":0.2},
{"w":"2021-46","u":7.6,"b":1.4,"a":0.1,"c":0.2,"m":1.6,"p":0.2,"l":0.3,"k":0.2,"e":0.1,"o":0.2,"g":0.2},
{"w":"2021-47","u":7.3,"b":1.6,"a":0.1,"c":0.2,"m":1.7,"p":0.2,"l":0.3,"k":0.2,"e":0.1,"o":0.2,"g":0.2},
{"w":"2021-48","u":8.4,"b":0.8,"a":0.1,"c":0.2,"m":1,"p":0.2,"l":0.3,"k":0.2,"e":0.1,"o":0.2,"g":0.2},
{"w":"2021-49","u":11.4,"b":1.3,"a":0.1,"c":0.2,"m":1.1,"p":0.2,"l":0.3,"k":0.2,"e":0.1,"o":0.25,"g":0.25},
{"w":"2021-50","u":9.7,"b":0.7,"a":0.1,"c":0.2,"m":0.9,"p":0.2,"l":0.3,"k":0.2,"e":0.1,"o":0.15,"g":0.15},
{"w":"2021-51","u":12.4,"b":0.7,"a":0.1,"c":0.2,"m":0.9,"p":0.2,"l":0.2,"k":0.2,"e":0.1,"o":0.15,"g":0.15},
{"w":"2021-52","u":10.7,"b":0.6,"a":0.1,"c":0.2,"m":0.8,"p":0.2,"l":0.2,"k":0.1,"e":0.1,"o":0.1,"g":0.1},
{"w":"2022-01","u":9.5,"b":0.8,"a":0.3,"c":0.3,"m":1.3,"p":0.3,"l":0.3,"k":0.3,"e":0.1,"o":0.4,"g":0.4},
{"w":"2022-02","u":14.3,"b":1.3,"a":1.1,"c":0.5,"m":1.2,"p":0.4,"l":0.2,"k":0.6,"e":0.1,"o":0.2,"g":0.2},
{"w":"2022-03","u":16.7,"b":2.5,"a":1.5,"c":0.8,"m":1.7,"p":0.5,"l":0.3,"k":0.6,"e":0.1,"o":0.15,"g":0.15},
{"w":"2022-04","u":17.2,"b":4.8,"a":1.5,"c":1.2,"m":3.8,"p":0.7,"l":0.4,"k":1,"e":0.2,"o":0.5,"g":0.5},
{"w":"2022-05","u":16.1,"b":5.5,"a":1.7,"c":1.5,"m":4.5,"p":1,"l":0.6,"k":1,"e":0.2,"o":0.65,"g":0.65},
{"w":"2022-06","u":15.1,"b":6,"a":1.5,"c":1.6,"m":4.2,"p":1.2,"l":0.7,"k":0.9,"e":0.2,"o":0.65,"g":0.65},
{"w":"2022-07","u":12.6,"b":5.5,"a":1.2,"c":1.4,"m":3.8,"p":1.1,"l":0.8,"k":0.7,"e":0.2,"o":0.75,"g":0.75},
{"w":"2022-08","u":10.8,"b":4,"a":0.8,"c":0.9,"m":2.9,"p":0.8,"l":0.9,"k":0.6,"e":0.2,"o":0.55,"g":0.55},
{"w":"2022-09","u":8.1,"b":3.3,"a":0.6,"c":0.6,"m":2.3,"p":0.6,"l":1.1,"k":0.5,"e":0.1,"o":0.85,"g":0.85},
{"w":"2022-10","u":5.7,"b":3.8,"a":0.4,"c":0.4,"m":1.9,"p":0.4,"l":1,"k":0.4,"e":0.1,"o":0.75,"g":0.75},
{"w":"2022-11","u":5.5,"b":2.5,"a":0.3,"c":0.3,"m":1.3,"p":0.3,"l":0.9,"k":0.3,"e":0.1,"o":0.5,"g":0.5},
{"w":"2022-12","u":5.2,"b":1.4,"a":0.2,"c":0.2,"m":0.8,"p":0.2,"l":11.7,"k":0.3,"e":0.1,"o":0.2,"g":0.2},
{"w":"2022-13","u":3.9,"b":1.5,"a":0.2,"c":0.2,"m":0.8,"p":0.2,"l":0.5,"k":0.3,"e":0.1,"o":0.2,"g":0.2},
{"w":"2022-14","u":3.9,"b":0.8,"a":0.1,"c":0.1,"m":0.4,"p":0.1,"l":0.3,"k":0.2,"e":0.05,"o":0.1,"g":0.05},
{"w":"2022-15","u":3.1,"b":1,"a":0.1,"c":0.1,"m":0.4,"p":0.1,"l":0.3,"k":0.3,"e":0.05,"o":0.1,"g":0.05},
{"w":"2022-16","u":3.1,"b":0.7,"a":0.1,"c":0.05,"m":0.3,"p":0.1,"l":0.2,"k":0.3,"e":0.05,"o":0.05,"g":0.05},
{"w":"2022-17","u":2.8,"b":0.8,"a":0.1,"c":0.05,"m":0.2,"p":0.1,"l":0.2,"k":0.3,"e":0.05,"o":0.1,"g":0.1},
{"w":"2022-18","u":3.2,"b":0.5,"a":0.05,"c":0.05,"m":0.1,"p":0.05,"l":0.1,"k":0.15,"e":0.02,"o":0.08},
{"w":"2022-19","u":2.6,"b":0.6,"a":0.05,"c":0.05,"m":0.1,"p":0.05,"l":0.15,"k":0.25,"o":0.15},
{"w":"2022-20","u":2.4,"b":0.8,"a":0.05,"c":0.05,"m":0.1,"p":0.05,"l":0.2,"k":0.2,"o":0.15},
{"w":"2022-21","u":2.8,"b":0.8,"a":0.05,"c":0.05,"m":0.1,"p":0.05,"l":0.2,"k":0.2,"o":0.15},
{"w":"2022-22","u":2.6,"b":0.7,"a":0.05,"c":0.05,"m":0.1,"p":0.05,"l":0.15,"k":0.1,"o":0.1},
{"w":"2022-23","u":2.3,"b":0.9,"a":0.1,"c":0.05,"m":0.2,"p":0.1,"l":0.15,"k":0.15,"o":0.15},
{"w":"2022-24","u":2.2,"b":0.8,"a":0.05,"c":0.05,"m":0.15,"p":0.1,"l":0.15,"k":0.1,"o":0.1},
{"w":"2022-25","u":2.5,"b":0.9,"a":0.1,"c":0.05,"m":0.2,"p":0.1,"l":0.2,"k":0.15,"o":0.1},
{"w":"2022-26","u":2.6,"b":1.5,"a":0.15,"c":0.1,"m":0.3,"p":0.15,"l":0.25,"k":0.15,"o":0.1,"g":0.1},
{"w":"2022-27","u":2.8,"b":1.3,"a":0.15,"c":0.1,"m":0.4,"p":0.15,"l":0.2,"k":0.1,"o":0.1,"g":0.1},
{"w":"2022-28","u":3.1,"b":1.5,"a":0.2,"c":0.1,"m":0.5,"p":0.2,"l":0.2,"k":0.2,"o":0.1,"g":0.1},
{"w":"2022-29","u":3,"b":1.5,"a":0.2,"c":0.15,"m":0.6,"p":0.2,"l":0.25,"k":0.2,"o":0.1,"g":0.1},
{"w":"2022-30","u":3.4,"b":1.5,"a":0.25,"c":0.2,"m":0.8,"p":0.2,"l":0.25,"k":0.2,"o":0.1,"g":0.1},
{"w":"2022-31","u":3.6,"b":1.4,"a":0.25,"c":0.2,"m":0.7,"p":0.2,"l":0.25,"k":0.2,"o":0.1,"g":0.1},
{"w":"2022-32","u":3.4,"b":1.6,"a":0.25,"c":0.2,"m":0.7,"p":0.2,"l":0.25,"k":0.2,"o":0.1,"g":0.1},
{"w":"2022-33","u":3.1,"b":1.2,"a":0.2,"c":0.15,"m":0.6,"p":0.2,"l":0.2,"k":0.2,"o":0.15},
{"w":"2022-34","u":3.2,"b":1.1,"a":0.2,"c":0.15,"m":0.5,"p":0.15,"l":0.2,"k":0.2,"o":0.1,"g":0.1},
{"w":"2022-35","u":3.6,"b":1.1,"a":0.15,"c":0.15,"m":0.5,"p":0.15,"l":0.25,"k":0.2,"o":0.1,"g":0.1},
{"w":"2022-36","u":3.2,"b":0.6,"a":0.1,"c":0.1,"m":0.3,"p":0.1,"l":0.15,"k":0.15,"o":0.1},
{"w":"2022-37","u":3,"b":0.7,"a":0.1,"c":0.1,"m":0.3,"p":0.1,"l":0.15,"k":0.15,"o":0.1},
{"w":"2022-38","u":3,"b":0.5,"a":0.05,"c":0.1,"m":0.25,"p":0.1,"l":0.15,"k":0.15,"o":0.1},
{"w":"2022-39","u":3,"b":0.5,"a":0.05,"c":0.1,"m":0.25,"p":0.1,"l":0.15,"k":0.15,"o":0.1},
{"w":"2022-40","u":3,"b":0.5,"a":0.05,"c":0.1,"m":0.25,"p":0.1,"l":0.15,"k":0.15,"o":0.1},
{"w":"2022-41","u":2.5,"b":0.4,"a":0.05,"c":0.05,"m":0.2,"p":0.1,"l":0.1,"k":0.15,"o":0.05},
{"w":"2022-42","u":2.2,"b":0.35,"a":0.05,"c":0.05,"m":0.2,"p":0.1,"l":0.1,"k":0.1,"o":0.05},
{"w":"2022-43","u":3.3,"b":0.4,"a":0.05,"c":0.05,"m":0.2,"p":0.1,"l":0.1,"k":0.15,"o":0.05},
{"w":"2022-44","u":2.4,"b":0.5,"a":0.05,"c":0.05,"m":0.2,"p":0.1,"l":0.1,"k":0.15,"o":0.05},
{"w":"2022-45","u":2.3,"b":0.4,"a":0.05,"c":0.05,"m":0.15,"p":0.1,"l":0.1,"k":0.2,"o":0.05},
{"w":"2022-46","u":2,"b":0.4,"a":0.05,"c":0.05,"m":0.15,"p":0.1,"l":0.1,"k":0.2,"o":0.05},
{"w":"2022-47","u":2.6,"b":0.5,"a":0.05,"c":0.05,"m":0.2,"p":0.1,"l":0.1,"k":0.25,"o":0.05},
{"w":"2022-48","u":2,"b":0.5,"a":0.05,"c":0.05,"m":0.2,"p":0.1,"l":0.1,"k":0.15,"o":0.05},
{"w":"2022-49","u":3,"b":0.8,"a":0.05,"c":0.05,"m":0.25,"p":0.1,"l":0.15,"k":0.2,"o":0.1},
{"w":"2022-50","u":3,"b":0.9,"a":0.05,"c":0.05,"m":0.25,"p":0.1,"l":0.15,"k":0.2,"o":0.1},
{"w":"2022-51","u":3.2,"b":1,"a":0.05,"c":0.05,"m":0.3,"p":0.1,"l":0.15,"k":0.25,"o":0.1},
{"w":"2022-52","u":2.9,"b":0.9,"a":0.05,"c":0.05,"m":0.3,"p":0.1,"l":0.15,"k":0.25,"o":0.1},
{"w":"2023-01","u":2.8,"b":0.8,"a":0.1,"c":0.05,"m":0.35,"p":0.15,"l":0.15,"k":0.25,"o":0.15},
{"w":"2023-02","u":4.4,"b":0.7,"a":0.1,"c":0.05,"m":0.3,"p":0.15,"l":0.15,"k":0.2,"o":0.15},
{"w":"2023-03","u":4.1,"b":0.7,"a":0.1,"c":0.05,"m":0.3,"p":0.15,"l":0.15,"k":0.2,"o":0.15},
{"w":"2023-04","u":3.8,"b":0.6,"a":0.1,"c":0.05,"m":0.3,"p":0.15,"l":0.15,"k":0.2,"o":0.15},
{"w":"2023-05","u":3.6,"b":0.6,"a":0.1,"c":0.05,"m":0.3,"p":0.15,"l":0.15,"k":0.2,"o":0.15},
{"w":"2023-06","u":2.9,"b":0.5,"a":0.05,"c":0.05,"m":0.25,"p":0.15,"l":0.15,"k":0.2,"o":0.15},
{"w":"2023-07","u":2.7,"b":0.4,"a":0.05,"c":0.05,"m":0.25,"p":0.1,"l":0.1,"k":0.2,"o":0.15},
{"w":"2023-08","u":2.8,"b":0.35,"a":0.05,"c":0.05,"m":0.2,"p":0.1,"l":0.1,"k":0.2,"o":0.15},
{"w":"2023-09","u":2.1,"b":0.3,"a":0.05,"c":0.05,"m":0.15,"p":0.1,"l":0.1,"k":0.15,"o":0.1},
{"w":"2023-10","u":1.8,"b":0.25,"a":0.05,"c":0.05,"m":0.15,"p":0.1,"l":0.1,"k":0.1,"o":0.1},
{"w":"2023-11","u":1.8,"b":0.25,"c":0.05,"m":0.15,"p":0.05,"l":0.1,"k":0.1,"o":0.1},
{"w":"2023-12","u":1.9,"b":0.25,"a":0.05,"c":0.05,"m":0.15,"p":0.05,"l":0.1,"k":0.15,"o":0.1},
{"w":"2023-13","u":2,"b":0.25,"c":0.05,"m":0.1,"p":0.05,"l":-3.4,"k":0.1,"o":0.05},
{"w":"2023-14","u":1.5,"b":0.2,"c":0.05,"m":0.1,"p":0.05,"l":0.05,"k":0.1,"o":0.05},
{"w":"2023-15","u":1.4,"b":0.2,"c":0.05,"m":0.1,"p":0.05,"l":0.05,"k":0.1,"o":0.05},
{"w":"2023-16","u":1.3,"b":0.2,"c":0.05,"m":0.1,"p":0.05,"l":0.05,"k":0.1,"o":0.05},
{"w":"2023-17","u":1.2,"b":0.2,"c":0.05,"m":0.1,"p":0.05,"l":0.05,"k":0.1,"o":0.05},
{"w":"2023-18","u":1.3,"b":0.2,"c":0.05,"m":0.1,"p":0.05,"l":0.05,"k":0.1,"o":0.05},
{"w":"2023-19","u":2,"b":0.3,"c":0.05,"m":0.15,"p":0.05,"l":0.1,"k":0.15,"e":0.1},
{"w":"2023-20","b":0.4,"m":0.1,"l":0.1,"k":0.1,"o":0.1},
{"w":"2023-21","b":0.45,"m":0.1,"l":0.1,"k":0.1,"o":0.05},
{"w":"2023-22","b":0.3,"k":0.1,"o":0.1},
{"w":"2023-23","b":0.5,"m":0.1,"p":0.1,"k":0.1,"o":0.1},
{"w":"2023-24","b":0.2,"o":0.1},
{"w":"2023-25","b":0.4,"m":0.1,"p":0.1,"o":0.1},
{"w":"2023-26","b":0.3,"n":0.2,"o":0.2},
{"w":"2023-27","b":0.3,"p":0.1,"o":0.1},
{"w":"2023-28","b":0.3,"o":0.1},
{"w":"2023-29","b":0.3,"k":0.1},
{"w":"2023-30","b":0.35,"p":0.1,"k":0.15}
]
},
"spacing":18,
"resolve":{"scale":{"color":"shared","x":"independent","y":"independent"}},
"vconcat":[
{"width":1145,"height":417,
"layer":[
{"data":{"name":"cases"},
"transform":[{"fold":["u","b","a","c","m","p","l","k","e","o","n","g","q","r"],"as":["key","v"]},{"filter":"isValid(datum.v)"},{"lookup":"key","from":{"data":{"name":"names"},"key":"key","fields":["country","rank"]}}],
"mark":{"type":"bar"},
"encoding":{
"x":{"field":"w","type":"ordinal","scale":{"paddingInner":0.12,"paddingOuter":0.16},"axis":{"title":null,"labelAngle":0,"labelOverlap":false,"labelFlush":false,"labelBound":false,"labelExpr":"substring(datum.value,5)","values":["2020-09","2020-13","2020-17","2020-22","2020-26","2020-30","2020-35","2020-39","2020-44","2020-48","2021-01","2021-05","2021-09","2021-13","2021-17","2021-22","2021-26","2021-30","2021-35","2021-39","2021-44","2021-48","2022-01","2022-05","2022-09","2022-13","2022-17","2022-22","2022-26","2022-30","2022-35","2022-39","2022-44","2022-48","2022-52","2023-01","2023-04","2023-08","2023-12","2023-16","2023-20","2023-24","2023-28"]}},
"y":{"field":"v","type":"quantitative","stack":"zero","scale":{"domain":[-450,9380],"nice":false,"zero":false},"axis":{"title":"Number of new cases","titlePadding":9,"values":[0,2500,5000,7500],"labelExpr":"datum.value == 0 ? '0' : datum.value == 2500 ? '2M' : datum.value == 5000 ? '5M' : '8M'"}},
"color":{"field":"country","type":"nominal","scale":{"domain":["United States of America","Brazil","Argentina","Colombia","Mexico","Peru","Chile","Canada","Ecuador","Bolivia (Plurinational State of)","Paraguay","Panama","Costa Rica","Uruguay","Dominican Republic","Guatemala","Venezuela (Bolivarian Republic of)","Honduras","Cuba","Puerto Rico","El Salvador","Jamaica","Trinidad and Tobago","French Guiana"],"range":["#5B86BD","#9FCFA8","#E874C5","#BEBA6A","#FCAA48","#B4625A","#5E875B","#C0BD3F","#D7262C","#8A9DB5","#FCAE4E","#62CED8","#EF7C4B","#D8CD99","#9DCAEC","#A27363","#BEA593","#F396CA","#44918D","#FA9898","#A38CBD","#8BCD7F","#E05358","#A0CDA8"]},"legend":{"title":null,"orient":"none","legendX":1162,"legendY":165,"symbolType":"square","symbolSize":400,"symbolStrokeWidth":0,"symbolOpacity":1,"labelFont":"Liberation Sans","labelFontSize":12,"labelColor":"#1a1a1a","labelOffset":7,"labelLimit":300,"rowPadding":4.6}},
"order":{"field":"rank","type":"quantitative"}
}},
{"data":{"values":[{"w":"2023-02","w2":"2023-18","v":1330,"v2":714}]},"mark":{"type":"rule","color":"#FF0000","strokeWidth":10},"encoding":{"x":{"field":"w","type":"ordinal"},"x2":{"field":"w2"},"y":{"field":"v","type":"quantitative"},"y2":{"field":"v2"}}},
{"data":{"values":[{"w":"2023-20","v":653}]},"mark":{"type":"point","shape":"triangle-right","size":1400,"angle":14,"filled":true,"color":"#FF0000","opacity":1},"encoding":{"x":{"field":"w","type":"ordinal"},"y":{"field":"v","type":"quantitative"}}},
{"data":{"values":[{"w":"2023-30","v":8200,"t":"SE 3-2020 a SE 30-2023"}]},"mark":{"type":"text","align":"right","baseline":"alphabetic","dx":202,"font":"DejaVu Sans","fontWeight":"bold","fontSize":30.5,"color":"#213A64"},"encoding":{"x":{"field":"w","type":"ordinal"},"y":{"field":"v","type":"quantitative"},"text":{"field":"t"}}},
{"data":{"values":[{"w":"2023-30","v":3503}]},"mark":{"type":"point","shape":"M -1.125 0 L -0.083 -1 L -0.083 -0.52 L 1.125 -0.52 L 1.125 0.52 L -0.083 0.52 L -0.083 1 Z","size":2304,"filled":true,"color":"#000000","opacity":1,"xOffset":140.5},"encoding":{"x":{"field":"w","type":"ordinal"},"y":{"field":"v","type":"quantitative"}}}
]},
{"width":1145,"height":366,
"layer":[
{"data":{"name":"deaths"},
"transform":[{"fold":["u","b","a","c","m","p","l","k","e","o","n","g","q","r"],"as":["key","v"]},{"filter":"isValid(datum.v)"},{"lookup":"key","from":{"data":{"name":"names"},"key":"key","fields":["country","rank"]}}],
"mark":{"type":"bar"},
"encoding":{
"x":{"field":"w","type":"ordinal","scale":{"paddingInner":0.12,"paddingOuter":0.16},"axis":{"title":"Epidemiological week (EW) of report","titlePadding":8,"labelAngle":0,"labelOverlap":false,"labelFlush":false,"labelBound":false,"labelExpr":"substring(datum.value,5)","values":["2020-09","2020-13","2020-17","2020-22","2020-26","2020-30","2020-35","2020-39","2020-44","2020-48","2021-01","2021-05","2021-09","2021-13","2021-17","2021-22","2021-26","2021-30","2021-35","2021-39","2021-44","2021-48","2022-01","2022-05","2022-09","2022-13","2022-17","2022-22","2022-26","2022-30","2022-35","2022-39","2022-44","2022-48","2022-52","2023-01","2023-04","2023-08","2023-12","2023-16","2023-20","2023-24","2023-28"]}},
"y":{"field":"v","type":"quantitative","stack":"zero","scale":{"domain":[-5.9,52.6],"nice":false,"zero":false},"axis":{"title":"Number of new deaths","titlePadding":3,"values":[0,10,20,30,40,50],"labelExpr":"datum.value == 0 ? '0' : datum.value + 'K'"}},
"color":{"field":"country","type":"nominal","scale":{"domain":["United States of America","Brazil","Argentina","Colombia","Mexico","Peru","Chile","Canada","Ecuador","Bolivia (Plurinational State of)","Paraguay","Panama","Costa Rica","Uruguay","Dominican Republic","Guatemala","Venezuela (Bolivarian Republic of)","Honduras","Cuba","Puerto Rico","El Salvador","Jamaica","Trinidad and Tobago","French Guiana"],"range":["#5B86BD","#9FCFA8","#E874C5","#BEBA6A","#FCAA48","#B4625A","#5E875B","#C0BD3F","#D7262C","#8A9DB5","#FCAE4E","#62CED8","#EF7C4B","#D8CD99","#9DCAEC","#A27363","#BEA593","#F396CA","#44918D","#FA9898","#A38CBD","#8BCD7F","#E05358","#A0CDA8"]},"legend":{"title":null,"orient":"none","legendX":1162,"legendY":165,"symbolType":"square","symbolSize":400,"symbolStrokeWidth":0,"symbolOpacity":1,"labelFont":"Liberation Sans","labelFontSize":12,"labelColor":"#1a1a1a","labelOffset":7,"labelLimit":300,"rowPadding":4.6}},
"order":{"field":"rank","type":"quantitative"}
}},
{"data":{"values":[{"w":"2023-02","w2":"2023-18","v":11.0,"v2":6.9}]},"mark":{"type":"rule","color":"#FF0000","strokeWidth":10},"encoding":{"x":{"field":"w","type":"ordinal"},"x2":{"field":"w2"},"y":{"field":"v","type":"quantitative"},"y2":{"field":"v2"}}},
{"data":{"values":[{"w":"2023-20","v":6.4}]},"mark":{"type":"point","shape":"triangle-right","size":1400,"angle":14,"filled":true,"color":"#FF0000","opacity":1},"encoding":{"x":{"field":"w","type":"ordinal"},"y":{"field":"v","type":"quantitative"}}}
]}
]
}
